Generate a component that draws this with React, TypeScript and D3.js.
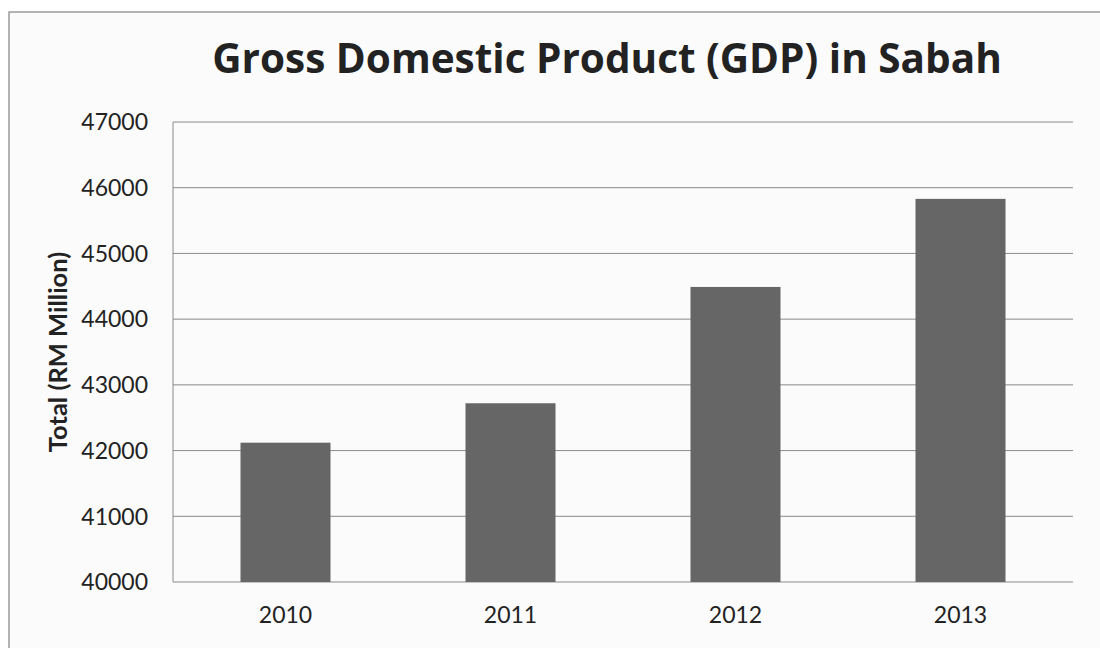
import React from "react";
import * as d3 from "d3";

const years = ["2010", "2011", "2012", "2013"];
const gdp = [42120, 42720, 44490, 45830];
const yTicks = [40000, 41000, 42000, 43000, 44000, 45000, 46000, 47000];
const title = "Gross Domestic Product (GDP) in Sabah";
const yTitle = "Total (RM Million)";

export default function App() {
  const W = 1100, H = 648;
  const left = 173, right = 1073, top = 122, bottom = 582;
  const x = d3.scaleBand<string>().domain(years).range([left, right]).paddingInner(0.6).paddingOuter(0.3);
  const y = d3.scaleLinear().domain([40000, 47000]).range([bottom, top]);
  const font = "Lato, 'Open Sans', sans-serif";
  return (
    <svg width={W} height={H} style={{ position: "absolute", left: 0, top: 0, display: "block" }}>
      <rect x={0} y={0} width={W} height={H} fill="#ffffff" />
      <rect x={9} y={12} width={W - 8} height={H - 10} fill="#fbfbfb" stroke="#9a9a9a" strokeWidth={1.5} />
      <text x={607} y={73} textAnchor="middle" fontFamily="'Open Sans', sans-serif" fontWeight={700} fontSize={40.5} fill="#222">{title}</text>
      {yTicks.map((t) => (
        <g key={t}>
          <line x1={left} x2={right} y1={y(t)} y2={y(t)} stroke="#8a8a8a" strokeWidth={1} />
          <text x={148} y={y(t)} dy="0.36em" textAnchor="end" fontFamily={font} fontSize={23} fill="#222">{t}</text>
        </g>
      ))}
      <line x1={left} x2={left} y1={top} y2={bottom} stroke="#8a8a8a" strokeWidth={1} />
      {years.map((yr, i) => (
        <g key={yr}>
          <rect x={x(yr)} y={y(gdp[i])} width={x.bandwidth()} height={bottom - y(gdp[i])} fill="#666666" />
          <text x={(x(yr) as number) + x.bandwidth() / 2} y={623} textAnchor="middle" fontFamily={font} fontSize={23} fill="#222">{yr}</text>
        </g>
      ))}
      <text transform={`translate(67,${(top + bottom) / 2}) rotate(-90)`} textAnchor="middle" fontFamily={font} fontWeight={700} fontSize={25.5} fill="#222">{yTitle}</text>
    </svg>
  );
}
